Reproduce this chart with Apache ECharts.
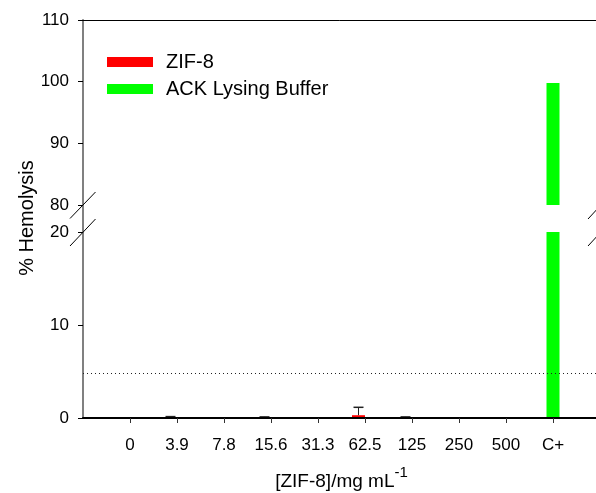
<!DOCTYPE html>
<html>
<head>
<meta charset="utf-8">
<script src="https://cdn.jsdelivr.net/npm/echarts@6/dist/echarts.min.js"></script>
<style>html,body{margin:0;padding:0;background:#fff;}#c{width:596px;height:493px;}</style>
</head>
<body>
<div id="c"></div>
<script>
// ---- data ----
const categories = ['0', '3.9', '7.8', '15.6', '31.3', '62.5', '125', '250', '500', 'C+'];
const zifValues = [0, 0.03, 0, 0.02, 0, 0.3, 0.02, 0, 0, null];
const zifErrors = [0, 0.12, 0, 0.1, 0, 0.85, 0.1, 0, 0, null];
const ackValues = [null, null, null, null, null, null, null, null, null, 99.8];
const thresholdValue = 4.8;
const upperTicks = [80, 90, 100, 110];
const lowerTicks = [0, 10, 20];
const seriesNames = ['ZIF-8', 'ACK Lysing Buffer'];

// padded axis (blank slot before first and after last category)
const axisCats = [''].concat(categories, ['']);
const pad = arr => ['-'].concat(arr.map(v => v == null ? '-' : v), ['-']);
const errData = [];
categories.forEach((c, i) => {
  if (zifValues[i] != null && zifErrors[i] > 0) errData.push([i + 1, zifValues[i], zifValues[i] + zifErrors[i]]);
});

const FONT = "'Liberation Sans', Arial, sans-serif";
const chart = echarts.init(document.getElementById('c'), null, {renderer: 'canvas'});

const tickShow = (idx) => idx > 0 && idx < axisCats.length - 1;
const G_LEFT = 83, G_W = 517;

const option = {
  animation: false,
  backgroundColor: '#fff',
  textStyle: {fontFamily: FONT},
  grid: [
    {left: G_LEFT, top: 20, width: G_W, height: 185, containLabel: false, outerBoundsMode: 'none'},
    {left: G_LEFT, top: 232, width: G_W, height: 186, containLabel: false, outerBoundsMode: 'none'}
  ],
  legend: {
    left: 107, top: 52, orient: 'vertical', itemWidth: 46, itemHeight: 10, itemGap: 7, padding: 0,
    icon: 'rect',
    data: seriesNames,
    textStyle: {fontFamily: FONT, fontSize: 20, color: '#000', lineHeight: 20, padding: [0, 0, 0, 8]}
  },
  xAxis: [
    {gridIndex: 0, type: 'category', data: axisCats, boundaryGap: false, position: 'top',
     axisLine: {show: true, lineStyle: {color: '#000', width: 1}}, axisTick: {show: false}, axisLabel: {show: false}},
    {gridIndex: 1, type: 'category', data: axisCats, boundaryGap: false, position: 'bottom', z: 5,
     axisLine: {show: true, lineStyle: {color: '#000', width: 2}},
     axisTick: {show: true, length: 5, interval: (i) => tickShow(i), lineStyle: {color: '#333', width: 1}},
     axisLabel: {show: true, interval: 0, margin: 19, fontSize: 17, color: '#000', fontFamily: FONT},
     name: '{a|[ZIF-8]/mg mL}{b|-1}', nameLocation: 'middle', nameGap: 47,
     nameTextStyle: {rich: {
       a: {fontSize: 19, fontFamily: FONT, color: '#000', lineHeight: 26, verticalAlign: 'bottom'},
       b: {fontSize: 15, fontFamily: FONT, color: '#000', lineHeight: 26, verticalAlign: 'top'}
     }}},
    {gridIndex: 1, type: 'category', data: axisCats, boundaryGap: false, show: false}
  ],
  yAxis: [
    {gridIndex: 0, type: 'value', min: upperTicks[0], max: upperTicks[upperTicks.length - 1], interval: 10,
     axisLine: {show: true, lineStyle: {color: '#808080', width: 2}},
     axisTick: {show: true, length: 5, lineStyle: {color: '#000'}},
     axisLabel: {fontSize: 17, color: '#000', margin: 14, fontFamily: FONT},
     splitLine: {show: false}},
    {gridIndex: 1, type: 'value', min: lowerTicks[0], max: lowerTicks[lowerTicks.length - 1], interval: 10,
     axisLine: {show: true, lineStyle: {color: '#808080', width: 2}},
     axisTick: {show: true, length: 5, lineStyle: {color: '#000'}},
     axisLabel: {fontSize: 17, color: '#000', margin: 14, fontFamily: FONT},
     splitLine: {show: false}}
  ],
  series: [
    {name: seriesNames[0], type: 'bar', xAxisIndex: 1, yAxisIndex: 1, data: pad(zifValues),
     barWidth: 13, barGap: '0%', itemStyle: {color: '#ff0000'},
     markLine: {silent: true, symbol: 'none', label: {show: false},
       lineStyle: {color: '#222', width: 1, type: [1, 3]},
       data: [{yAxis: thresholdValue}]}},
    {name: '_placeholder', type: 'bar', xAxisIndex: 1, yAxisIndex: 1, data: pad(categories.map(() => null)),
     barWidth: 13, barGap: '0%'},
    {name: seriesNames[1], type: 'bar', xAxisIndex: 2, yAxisIndex: 1, data: pad(ackValues),
     barWidth: 13, itemStyle: {color: '#00ff00'}, clip: true, z: 3},
    {name: seriesNames[1], type: 'bar', xAxisIndex: 0, yAxisIndex: 0, data: pad(ackValues),
     barWidth: 13, itemStyle: {color: '#00ff00'}, clip: true},
    {name: 'err', type: 'custom', xAxisIndex: 1, yAxisIndex: 1, data: errData, z: 4,
     renderItem: function (params, api) {
       const x = api.value(0);
       const lo = api.coord([x, api.value(1)]);
       const hi = api.coord([x, api.value(2)]);
       const cx = lo[0] - 6.5;
       const cap = 5;
       return {type: 'group', children: [
         {type: 'line', shape: {x1: cx, y1: lo[1], x2: cx, y2: hi[1]}, style: {stroke: '#222', lineWidth: 1}},
         {type: 'line', shape: {x1: cx - cap, y1: hi[1], x2: cx + cap, y2: hi[1]}, style: {stroke: '#222', lineWidth: 1.5}}
       ]};
     }}
  ],
  graphic: [
    {type: 'line', shape: {x1: G_LEFT, y1: 205, x2: G_LEFT, y2: 232}, style: {stroke: '#808080', lineWidth: 2}, z: 10},
    {type: 'line', shape: {x1: 70, y1: 218.5, x2: 95.5, y2: 192}, style: {stroke: '#000', lineWidth: 1}, z: 11},
    {type: 'line', shape: {x1: 70, y1: 246, x2: 95.5, y2: 219}, style: {stroke: '#000', lineWidth: 1}, z: 11},
    {type: 'line', shape: {x1: 588, y1: 219, x2: 613, y2: 192}, style: {stroke: '#000', lineWidth: 1}, z: 11},
    {type: 'line', shape: {x1: 588, y1: 246, x2: 613, y2: 219}, style: {stroke: '#000', lineWidth: 1}, z: 11},
    {type: 'text', x: 27, y: 218, rotation: Math.PI / 2,
     style: {text: '% Hemolysis', fontSize: 20, fontFamily: FONT, fill: '#000', align: 'center', verticalAlign: 'middle'}}
  ]
};
chart.setOption(option);
</script>
</body>
</html>
